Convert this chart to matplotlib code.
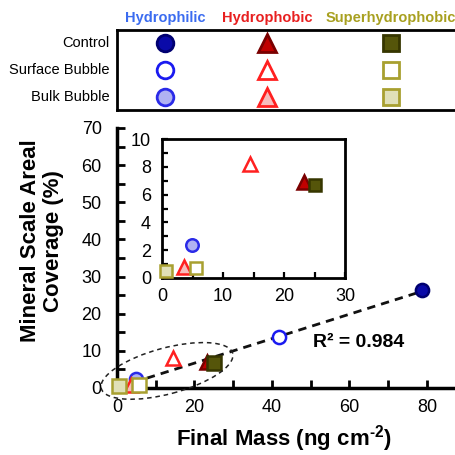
import numpy as np
import matplotlib
matplotlib.use("Agg")
import matplotlib.pyplot as plt
from matplotlib.patches import Ellipse
import matplotlib.transforms as mtransforms
from matplotlib.ticker import MultipleLocator

plt.rcParams['font.family'] = ['Liberation Sans', 'DejaVu Sans']
plt.rcParams['mathtext.fontset'] = 'custom'
plt.rcParams['mathtext.rm'] = 'Liberation Sans:bold'
plt.rcParams['mathtext.bf'] = 'Liberation Sans:bold'

# data: order is Control, Surface Bubble, Bulk Bubble
groups = ['Hydrophilic', 'Hydrophobic', 'Superhydrophobic']
conditions = ['Control', 'Surface Bubble', 'Bulk Bubble']
hydrophilic_x = [78.6, 41.8, 4.9]
hydrophilic_y = [26.4, 13.6, 2.4]
hydrophobic_x = [23.3, 14.4, 3.6]
hydrophobic_y = [6.9, 8.2, 0.8]
superhydrophobic_x = [25.1, 5.6, 0.6]
superhydrophobic_y = [6.7, 0.7, 0.5]
r_squared = 0.984

xs = {'Hydrophilic': hydrophilic_x, 'Hydrophobic': hydrophobic_x, 'Superhydrophobic': superhydrophobic_x}
ys = {'Hydrophilic': hydrophilic_y, 'Hydrophobic': hydrophobic_y, 'Superhydrophobic': superhydrophobic_y}

styles = {
    'Hydrophilic': dict(marker='o', header='#3B6CF0',
                        face=['#0A0AA8', 'white', '#B0B2F2'],
                        edge=['#000070', '#1A1AF0', '#2A2AE8']),
    'Hydrophobic': dict(marker='^', header='#E82020',
                        face=['#C00000', 'white', '#F6BCBC'],
                        edge=['#7A0000', '#FF2020', '#FF2020']),
    'Superhydrophobic': dict(marker='s', header='#A8A020',
                             face=['#55550A', 'white', '#E0E0B8'],
                             edge=['#363600', '#A8A030', '#A8A030']),
}


def draw_points(ax, ms):
    for g in groups:
        st = styles[g]
        for i in range(3):
            m = ms * 1.1 if st['marker'] == '^' else ms
            ax.plot(xs[g][i], ys[g][i], marker=st['marker'], ms=m, ls='none',
                    mfc=st['face'][i], mec=st['edge'][i], mew=1.8,
                    clip_on=False, zorder=3)


W = 455
fig = plt.figure(figsize=(4.55, 4.55), dpi=100)

# main axes
ax = fig.add_axes([117 / W, 67 / W, 348.75 / W, 260 / W])
ax.set_xlim(0, 90)
ax.set_ylim(0, 70)
for s in ['top', 'right']:
    ax.spines[s].set_visible(False)
for s in ['left', 'bottom']:
    ax.spines[s].set_linewidth(2.5)
ax.xaxis.set_major_locator(MultipleLocator(20))
ax.xaxis.set_minor_locator(MultipleLocator(10))
ax.yaxis.set_major_locator(MultipleLocator(10))
ax.yaxis.set_minor_locator(MultipleLocator(5))
ax.tick_params(which='both', direction='in', length=6, width=2, labelsize=13)
ax.tick_params(axis='x', pad=8)
ax.tick_params(axis='y', pad=11)

all_x = np.array(hydrophilic_x + hydrophobic_x + superhydrophobic_x)
all_y = np.array(hydrophilic_y + hydrophobic_y + superhydrophobic_y)
slope, icpt = np.polyfit(all_x, all_y, 1)
fx = np.array([all_x.min(), all_x.max()])
ax.plot(fx, slope * fx + icpt, ls=(0, (3, 2.2)), color='#111111', lw=2, zorder=2)

draw_points(ax, 9.5)

ax.text(50.5, 12.2, 'R² = 0.984', fontsize=14, fontweight='bold', va='center')

ax.set_xlabel('Final Mass (ng cm$^{\\text{-2}}$)', fontsize=16, fontweight='bold')
ax.xaxis.set_label_coords(0.479, -0.135)
ax.set_ylabel('Mineral Scale Areal\nCoverage (%)', fontsize=16, fontweight='bold',
              linespacing=1.1)
ax.yaxis.set_label_coords(-0.152, 0.565)

# dashed ellipse around the low points (drawn in pixel space)
cx, cy = ax.transData.transform((12.9, 4.6))
ell = Ellipse((0, 0), 136, 46, angle=15, fill=False, ls=(0, (3, 2.5)),
              lw=1.1, color='#222222',
              transform=mtransforms.Affine2D().translate(cx, cy), clip_on=False)
fig.add_artist(ell)

# inset
ins = fig.add_axes([162 / W, 177 / W, 183 / W, 139 / W])
ins.set_xlim(0, 30)
ins.set_ylim(0, 10)
for s in ins.spines.values():
    s.set_linewidth(2)
ins.xaxis.set_major_locator(MultipleLocator(10))
ins.xaxis.set_minor_locator(MultipleLocator(5))
ins.yaxis.set_major_locator(MultipleLocator(2))
ins.yaxis.set_minor_locator(MultipleLocator(1))
ins.tick_params(which='both', direction='in', length=4.5, width=1.6, labelsize=13)
ins.tick_params(axis='x', pad=7)
ins.tick_params(axis='y', pad=8)
draw_points(ins, 9)

# legend table on top
lg = fig.add_axes([117 / W, (W - 110) / W, 360 / W, 80 / W])
lg.set_xlim(0, 360)
lg.set_ylim(80, 0)
lg.set_xticks([])
lg.set_yticks([])
for s in lg.spines.values():
    s.set_linewidth(2)
col_x = [48, 150, 274]
row_y = [13, 40, 67]
for j, g in enumerate(groups):
    st = styles[g]
    lg.text(col_x[j], -12, g, color=st['header'], fontsize=10.5, fontweight='bold',
            ha='center', va='center', clip_on=False)
    for i in range(3):
        m = 13 if st['marker'] == '^' else 12
        lg.plot(col_x[j], row_y[i], marker=st['marker'], ms=m, ls='none',
                mfc=st['face'][i], mec=st['edge'][i], mew=2)
for i, c in enumerate(conditions):
    lg.text(-7, row_y[i], c, fontsize=10.5, ha='right', va='center', clip_on=False)

fig.savefig('out.png', dpi=100)
